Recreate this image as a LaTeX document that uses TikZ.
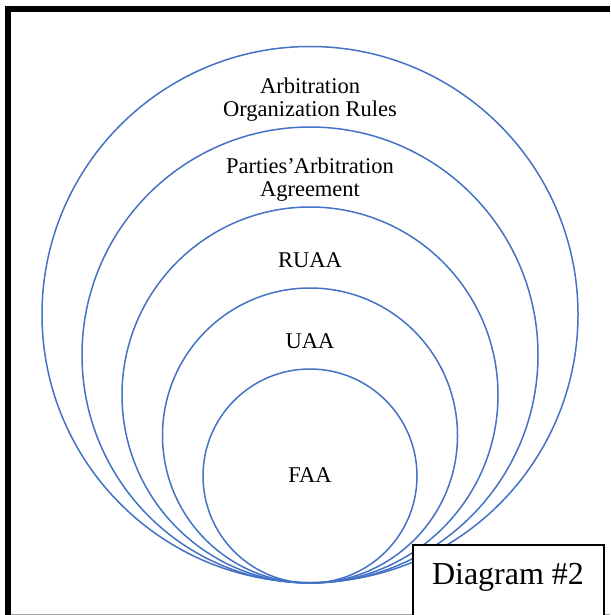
\documentclass[tikz,border=0pt]{standalone}
\usepackage{fontspec}
\setmainfont{Liberation Serif}
\definecolor{ringblue}{HTML}{4472C4}
\begin{document}
\begin{tikzpicture}[x=1pt,y=-1pt,
  ring/.style={draw=ringblue, line width=1.5pt, circle, inner sep=0pt, fill=none},
  lbl/.style={font=\fontsize{22.5}{23.5}\selectfont, align=center, inner sep=0pt},
  tag/.style={draw=black, line width=1.8pt, fill=white, inner sep=0pt}]
  \useasboundingbox (0,0) rectangle (610,615);
  \clip (0,0) rectangle (610,615);
  \fill[white] (0,0) rectangle (610,615);

  % frame: heavy top and left rules, faint bottom rule
  \fill[black] (5,6) rectangle (610,12);
  \fill[black] (5,6) rectangle (11,615);
  \draw[gray!70, line width=1pt] (11,614) -- (610,614);

  % nested rings, all touching at the bottom
  \node[ring, minimum size=536pt] (rules)  at (310,314.5) {};
  \node[ring, minimum size=456pt] (agree)  at (310,355)   {};
  \node[ring, minimum size=376pt] (ruaa)   at (310,395)   {};
  \node[ring, minimum size=295pt] (uaa)    at (310,435.5) {};
  \node[ring, minimum size=214pt] (faa)    at (310,476)   {};

  % ring captions
  \node[lbl] (tRules) at (310,99.5)  {Arbitration\\Organization Rules};
  \node[lbl] (tAgree) at (310,179.5) {Parties’\kern-0.3em\ Arbitration\\Agreement};
  \node[lbl] (tRuaa)  at (310,260)   {RUAA};
  \node[lbl] (tUaa)   at (310,341)   {UAA};
  \node[lbl] (tFaa)   at (310,475)   {FAA};

  % caption box in the corner
  \draw[tag] (413,545) rectangle (604,630);
  \node[font=\fontsize{32}{34}\selectfont, inner sep=0pt] (diag) at (508,577) {Diagram \#2};
\end{tikzpicture}
\end{document}
